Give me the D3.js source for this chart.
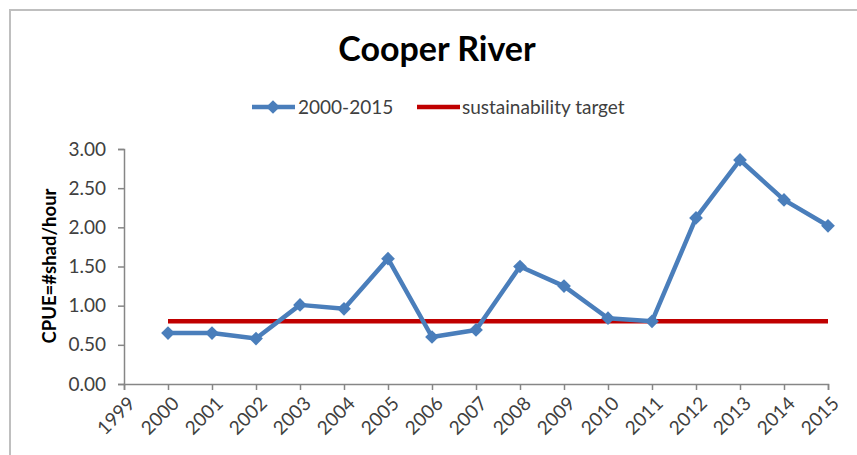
<!DOCTYPE html>
<html>
<head>
<meta charset="utf-8">
<script src="https://cdn.jsdelivr.net/npm/d3@7"></script>
<style>
  body { margin: 0; background: #fff; }
  svg { display: block; font-family: Lato, "Open Sans", sans-serif; }
</style>
</head>
<body>
<svg id="chart" width="857" height="455"></svg>
<script>
// data
const years = [2000, 2001, 2002, 2003, 2004, 2005, 2006, 2007,
               2008, 2009, 2010, 2011, 2012, 2013, 2014, 2015];
const cpue = [0.65, 0.65, 0.58, 1.01, 0.96, 1.60, 0.60, 0.69,
              1.50, 1.25, 0.84, 0.80, 2.12, 2.86, 2.35, 2.02];
const target = 0.80;
const yTicks = [0, 0.5, 1, 1.5, 2, 2.5, 3];
const xTicks = d3.range(1999, 2016);

const blue = '#4a7ebb';
const red = '#c00000';

const svg = d3.select('#chart');

// outer chart border (only top/left are in view)
svg.append('path')
    .attr('d', 'M10,455 L10,10 L857,10')
    .attr('fill', 'none')
    .attr('stroke', '#bfbfbf')
    .attr('stroke-width', 2);

// title
svg.append('text')
    .attr('x', 437).attr('y', 61)
    .attr('text-anchor', 'middle')
    .style('font-size', '34px')
    .style('font-weight', 'bold')
    .attr('fill', '#000')
    .text('Cooper River');

//scales
const x = d3.scaleLinear().domain([1999, 2015]).range([124, 828]);
const y = d3.scaleLinear().domain([0, 3]).range([384, 149]);

// y axis
const yAxis = d3.axisLeft(y).tickValues(yTicks).tickFormat(d3.format('.2f')).tickSize(6).tickPadding(12);
const gy = svg.append('g').attr('transform', 'translate(124,0)').call(yAxis);
gy.select('.domain').attr('stroke', '#868686').attr('stroke-width', 1.5);
gy.selectAll('.tick line').attr('stroke', '#868686').attr('stroke-width', 1.5);
gy.selectAll('text').attr('fill', '#404040').style('font-size', '19px').style('font-family', 'Lato, sans-serif');

// x axis
const xAxis = d3.axisBottom(x).tickValues(xTicks).tickFormat(d3.format('d')).tickSize(6).tickSizeOuter(6);
const gx = svg.append('g').attr('transform', 'translate(0,384)').call(xAxis);
gx.select('.domain').attr('stroke', '#868686').attr('stroke-width', 1.5);
gx.selectAll('.tick line').attr('stroke', '#868686').attr('stroke-width', 1.5);
gx.selectAll('text')
    .attr('fill', '#404040')
    .style('font-size', '19px')
    .style('font-family', 'Lato, sans-serif')
    .attr('text-anchor', 'end')
    .attr('dy', '0.35em')
    .attr('transform', 'translate(7,16) rotate(-45)')
    .attr('y', 0);

// y axis title
svg.append('text')
    .attr('transform', 'translate(56,266) rotate(-90)')
    .attr('text-anchor', 'middle')
    .style('font-size', '18.5px')
    .style('font-weight', 'bold')
    .attr('fill', '#000')
    .text('CPUE=#shad/hour');

// sustainability target
svg.append('line')
    .attr('x1', x(years[0])).attr('x2', x(years[years.length - 1]))
    .attr('y1', y(target)).attr('y2', y(target))
    .attr('stroke', red).attr('stroke-width', 4.5);

// series line
const line = d3.line().x((d, i) => x(years[i])).y(d => y(d));
svg.append('path')
    .datum(cpue)
    .attr('d', line)
    .attr('fill', 'none')
    .attr('stroke', blue)
    .attr('stroke-width', 4.5)
    .attr('stroke-linejoin', 'round');

const diamond = d3.symbol().type(d3.symbolDiamond2).size(120);
svg.selectAll('.pt')
    .data(cpue)
    .join('path')
    .attr('class', 'pt')
    .attr('d', diamond)
    .attr('transform', (d, i) => `translate(${x(years[i])},${y(d)})`)
    .attr('fill', blue);

// legend
const lg = svg.append('g').attr('transform', 'translate(0,107)');
lg.append('line').attr('x1', 252).attr('x2', 295).attr('stroke', blue).attr('stroke-width', 4.5);
lg.append('path').attr('d', diamond).attr('transform', 'translate(273,0)').attr('fill', blue);
lg.append('text').attr('x', 298).attr('dy', '0.35em').style('font-size', '19px').attr('fill', '#404040').text('2000-2015');
lg.append('line').attr('x1', 417).attr('x2', 460).attr('stroke', red).attr('stroke-width', 4.5);
lg.append('text').attr('x', 462).attr('dy', '0.35em').style('font-size', '19px').attr('fill', '#404040').text('sustainability target');
</script>
</body>
</html>
